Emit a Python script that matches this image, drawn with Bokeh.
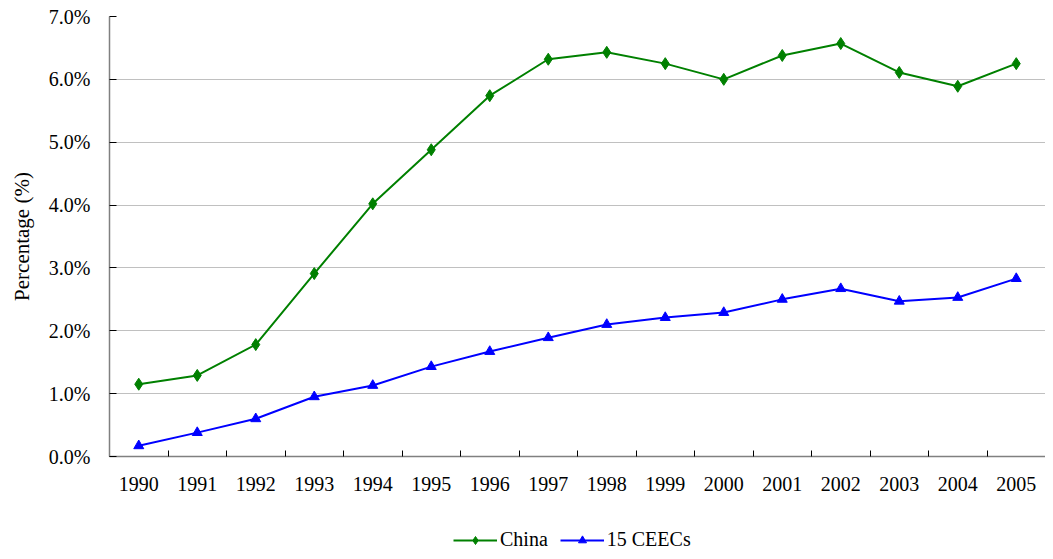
from bokeh.plotting import figure
from bokeh.layouts import column
from bokeh.models import Range1d, FixedTicker, ColumnDataSource, Legend, LegendItem
from bokeh.embed import file_html
from bokeh.resources import INLINE

years = [str(y) for y in range(1990, 2006)]
china = [1.15, 1.29, 1.78, 2.91, 4.02, 4.88, 5.74, 6.32, 6.43, 6.25, 6.00, 6.38, 6.57, 6.11, 5.89, 6.25]
ceecs = [0.17, 0.38, 0.60, 0.95, 1.13, 1.43, 1.67, 1.89, 2.10, 2.21, 2.29, 2.50, 2.67, 2.47, 2.53, 2.83]
y_ticks = [0, 1, 2, 3, 4, 5, 6, 7]
series_names = ["China", "15 CEECs"]

FONT = "Liberation Serif"
GREEN = "#008000"
BLUE = "#0000ff"
LEFT = 109
xpos = [i + 0.5 for i in range(len(years))]
src = ColumnDataSource(dict(x=xpos, china=china, ceecs=ceecs))

p = figure(width=1045, height=527, output_backend="svg", toolbar_location=None,
           x_range=Range1d(0, len(years)), y_range=Range1d(0, 7),
           min_border_left=LEFT, min_border_right=0, min_border_top=16, min_border_bottom=71)
p.outline_line_color = None
p.background_fill_color = "white"
p.border_fill_color = "white"

p.line("x", "china", source=src, line_color=GREEN, line_width=2)
p.scatter("x", "china", source=src, marker="diamond", size=12, fill_color=GREEN, line_color=GREEN)
p.line("x", "ceecs", source=src, line_color=BLUE, line_width=2)
p.scatter("x", "ceecs", source=src, marker="triangle", size=10, fill_color=BLUE, line_color=BLUE)

# x axis: labels at category centres, ticks between categories
xa = p.xaxis[0]
xa.ticker = FixedTicker(ticks=xpos, minor_ticks=list(range(0, len(years) + 1)))
xa.major_label_overrides = {x: y for x, y in zip(xpos, years)}
xa.major_tick_line_color = None
xa.minor_tick_in = 6
xa.minor_tick_out = 0
xa.minor_tick_line_color = "#000000"
xa.axis_line_color = "#808080"
xa.axis_line_width = 1.5
xa.major_label_text_font = FONT
xa.major_label_text_font_size = "20px"
xa.major_label_text_color = "#000000"
xa.major_label_standoff = 14

# y axis
ya = p.yaxis[0]
ya.ticker = FixedTicker(ticks=y_ticks)
ya.major_label_overrides = {t: f"{t}.0%" for t in y_ticks}
ya.major_tick_in = 7
ya.major_tick_out = 0
ya.major_tick_line_color = "#000000"
ya.minor_tick_line_color = None
ya.axis_line_color = "#808080"
ya.axis_line_width = 1.5
ya.major_label_text_font = FONT
ya.major_label_text_font_size = "20px"
ya.major_label_text_color = "#000000"
ya.major_label_standoff = 19
ya.axis_label = "Percentage (%)"
ya.axis_label_text_font = FONT
ya.axis_label_text_font_size = "21px"
ya.axis_label_text_font_style = "normal"
ya.axis_label_text_color = "#000000"
ya.axis_label_standoff = 12

p.xgrid.grid_line_color = None
p.ygrid.grid_line_color = "#c0c0c0"
p.ygrid.grid_line_width = 1.2

# legend strip below the chart (its ranges keep the series out of view; only the legend shows)
lg = figure(width=1045, height=24, output_backend="svg", toolbar_location=None,
            x_axis_type=None, y_axis_type=None, x_range=Range1d(-3, -2), y_range=Range1d(-3, -2),
            min_border=0, min_border_left=LEFT)
lg.outline_line_color = None
lg.grid.visible = False
r1 = lg.line("x", "china", source=src, line_color=GREEN, line_width=2)
s1 = lg.scatter("x", "china", source=src, marker="diamond", size=12, fill_color=GREEN, line_color=GREEN)
r2 = lg.line("x", "ceecs", source=src, line_color=BLUE, line_width=2)
s2 = lg.scatter("x", "ceecs", source=src, marker="triangle", size=10, fill_color=BLUE, line_color=BLUE)

legend = Legend(items=[LegendItem(label=series_names[0], renderers=[r1, s1]),
                       LegendItem(label=series_names[1], renderers=[r2, s2])],
                orientation="horizontal", location=(453 - LEFT, 0))
legend.label_text_font = FONT
legend.label_text_font_size = "20px"
legend.label_text_color = "#000000"
legend.border_line_color = None
legend.background_fill_alpha = 0
legend.glyph_width = 44
legend.glyph_height = 20
legend.label_height = 20
legend.spacing = 12
legend.label_standoff = 3
legend.margin = 0
legend.padding = 0
lg.add_layout(legend, "center")

layout = column(p, lg, spacing=0)
open("out.html", "w").write(file_html(layout, INLINE))
